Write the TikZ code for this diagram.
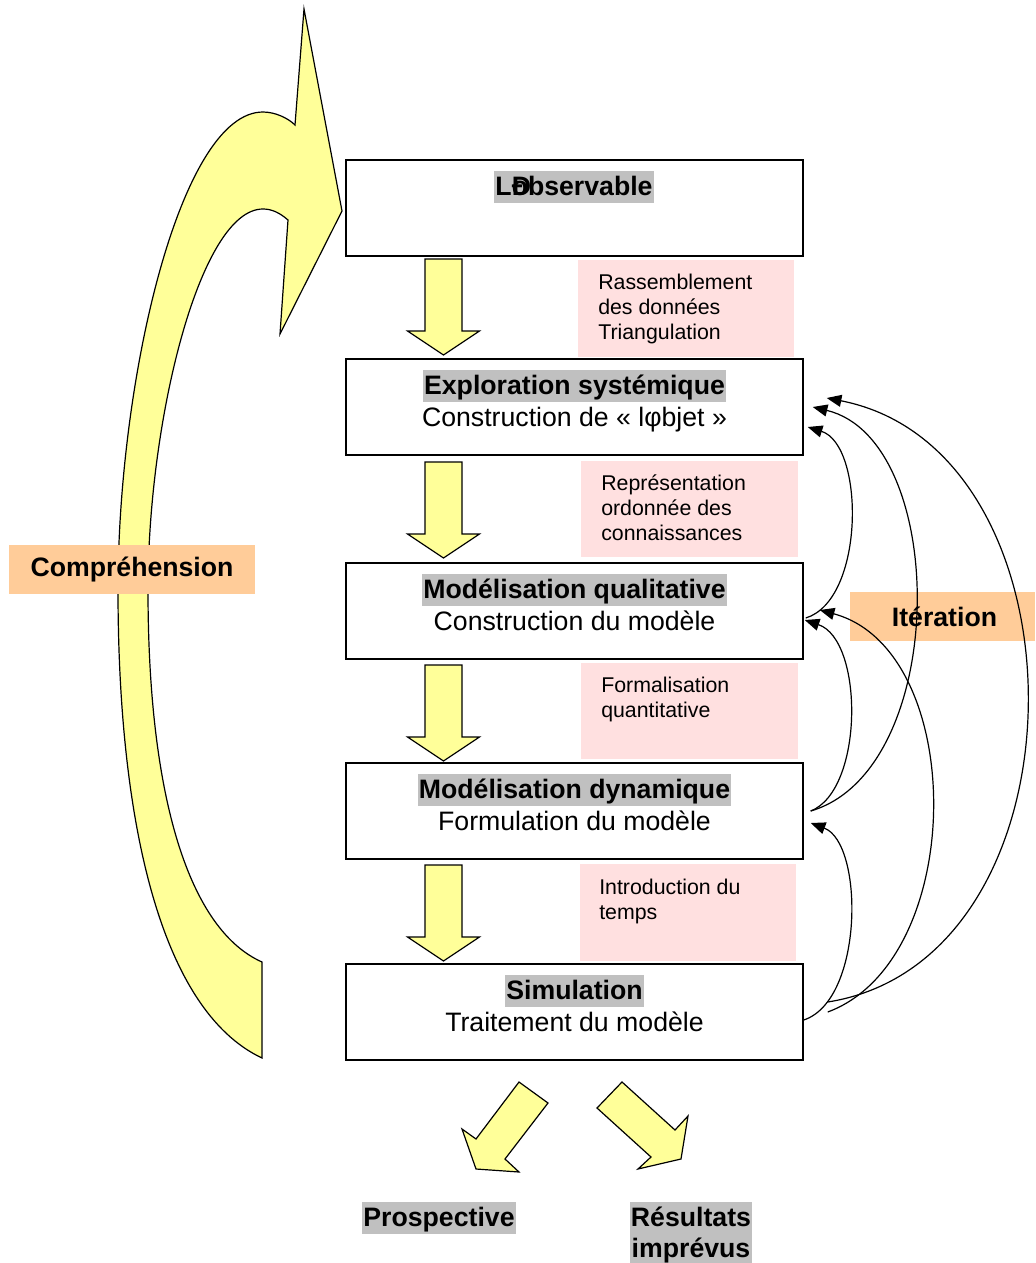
\documentclass[tikz,border=0pt]{standalone}
\usepackage{fontspec}
\setmainfont{Liberation Sans}
\usetikzlibrary{arrows.meta,calc}
\definecolor{yel}{HTML}{FFFF99}
\definecolor{pinkbg}{HTML}{FFE0E0}
\definecolor{orangebg}{HTML}{FFCC99}
\definecolor{hl}{HTML}{C0C0C0}

% vertical block arrow: #1 = centre x, #2 = top y
\newcommand\blockdown[2]{%
  \filldraw[yarrow] (#1-18.5,#2) -- (#1+18.5,#2) -- (#1+18.5,#2+72) -- (#1+36,#2+72)
    -- (#1,#2+96) -- (#1-36,#2+72) -- (#1-18.5,#2+72) -- cycle;}

\begin{document}
\begin{tikzpicture}[x=0.75pt,y=-0.75pt,
  stepbox/.style={draw,line width=1.1pt,minimum width=342.75pt,minimum height=72pt,inner sep=0},
  titlehl/.style={fill=hl,inner xsep=1pt,inner ysep=0pt,text height=18pt,text depth=6pt,font=\fontsize{20}{24}\selectfont\bfseries},
  subtitle/.style={inner sep=0pt,text height=18pt,text depth=6pt,font=\fontsize{20}{24}\selectfont},
  note/.style={anchor=north west,inner sep=0pt,align=left,font=\fontsize{16}{18.5}\selectfont},
  tag/.style={fill=orangebg,inner sep=0,minimum height=36.75pt,font=\fontsize{20}{24}\selectfont\bfseries},
  yarrow/.style={fill=yel,draw=black,line width=0.9pt,line join=miter},
  loop/.style={line width=0.9pt,-{Triangle[length=11pt,width=9pt]}}
]
\useasboundingbox (0,0) rectangle (1035,1263);

% large curved arrow on the left
\filldraw[yarrow] (262,1058) .. controls (160,1010) and (118,820) .. (118,590)
  .. controls (118,380) and (180,112) .. (263,112)
  .. controls (275,112) and (288,118) .. (295,125)
  -- (304,9) -- (342,211) -- (280,334) -- (288,220)
  .. controls (280,213) and (272,209) .. (263,209)
  .. controls (200,209) and (148,420) .. (148,590)
  .. controls (148,800) and (190,930) .. (262,962)
  -- cycle;

\node[tag,minimum width=184.5pt] (comp) at (132,569) {Compréhension};

% main steps
\node[stepbox] (b1) at (574.5,208) {};
\node[stepbox] (b2) at (574.5,407) {};
\node[stepbox] (b3) at (574.5,611) {};
\node[stepbox] (b4) at (574.5,811) {};
\node[stepbox] (b5) at (574.5,1012) {};

\node[titlehl] (t1) at (574,187) {L\rlap{Ð}observable};
\node[titlehl] (t2) at (574.5,386) {Exploration systémique};
\node[subtitle] (s2) at (574.5,418) {Construction de « lφbjet »};
\node[titlehl] (t3) at (574.5,590) {Modélisation qualitative};
\node[subtitle] (s3) at (574.5,622) {Construction du modèle};
\node[titlehl] (t4) at (574.5,790) {Modélisation dynamique};
\node[subtitle] (s4) at (574.5,822) {Formulation du modèle};
\node[titlehl] (t5) at (574.5,991) {Simulation};
\node[subtitle] (s5) at (574.5,1023) {Traitement du modèle};

% transitions between steps
\fill[pinkbg] (578,260) rectangle (794,357);
\fill[pinkbg] (581,461) rectangle (798,557);
\fill[pinkbg] (581,663) rectangle (798,759);
\fill[pinkbg] (580,864) rectangle (796,961);
\node[note] (n1) at (598,274) {Rassemblement\\des données\\Triangulation};
\node[note] (n2) at (601,475) {Représentation\\ordonnée des\\connaissances};
\node[note] (n3) at (601,677) {Formalisation\\quantitative};
\node[note] (n4) at (599,879) {Introduction du\\temps};

\blockdown{443.5}{259}
\blockdown{443.5}{462}
\blockdown{443.5}{665}
\blockdown{443.5}{865}

% iteration loops
\node[tag,minimum width=138.75pt] (iter) at (942.5,616.5) {\hspace{3pt}Itération};

\draw[loop] ($(b3.east)+(2,7)$) .. controls (865,600) and (865,445) .. ($(b2.east)+(4,20)$);
\draw[loop] ($(b4.east)+(7,0)$) .. controls (864,790) and (864,640) .. ($(b3.east)+(1,9)$);
\draw[loop] ($(b4.east)+(7,0)$) .. controls (950,770) and (950,440) .. ($(b2.east)+(9,0)$);
\draw[loop] ($(b5.east)+(24,0)$) .. controls (968,960) and (968,650) .. ($(b3.east)+(16,-1)$);
\draw[loop] ($(b5.east)+(24,-10)$) .. controls (1093,960) and (1093,450) .. ($(b2.east)+(23,-9)$);
\draw[loop] ($(b5.east)+(0,8)$) .. controls (864,1000) and (864,843) .. ($(b4.east)+(7,12)$);

% outcomes
\filldraw[yarrow] (519,1082) -- (548,1103) -- (505,1159) -- (519,1172) -- (476,1169)
  -- (462,1129) -- (476,1139) -- cycle;
\filldraw[yarrow] (622,1082) -- (675,1130) -- (688,1116) -- (681,1159) -- (638,1169)
  -- (651,1157) -- (597,1108) -- cycle;

\node[titlehl] (o1) at (439,1218) {Prospective};
\node[titlehl] (o2) at (691,1218) {Résultats};
\node[titlehl] (o3) at (691,1249) {imprévus};
\end{tikzpicture}
\end{document}
